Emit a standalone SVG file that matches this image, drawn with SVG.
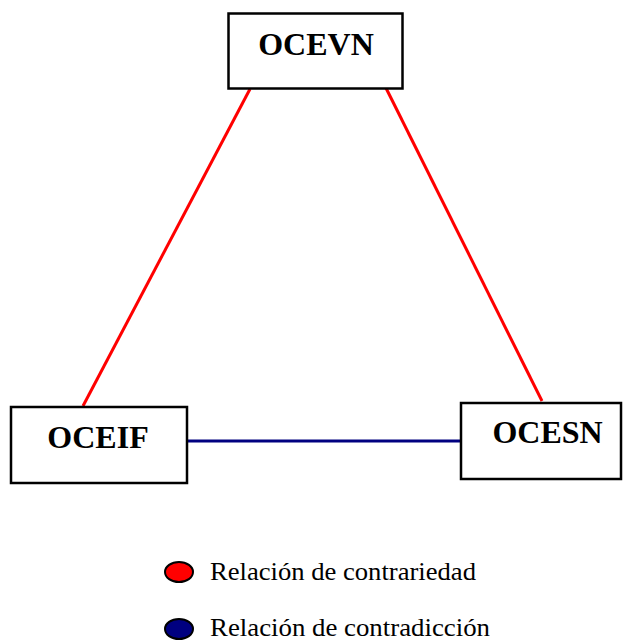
<svg xmlns="http://www.w3.org/2000/svg" width="624" height="641" viewBox="0 0 624 641">
<style>
.box{fill:#fff;stroke:#000;stroke-width:2.5}
.lbl{font-family:"Liberation Serif","Times New Roman",serif;font-weight:bold;font-size:32px;text-anchor:middle;fill:#000}
.leg{font-family:"Liberation Serif","Times New Roman",serif;font-size:25px;fill:#000}
.red{stroke:#ff0000;stroke-width:3;fill:none}
.blue{stroke:#000080;stroke-width:3;fill:none}
</style>
<rect width="624" height="641" fill="#fff"/>
<g id="connectors">
<line class="red" x1="250" y1="89" x2="83" y2="406"/>
<line class="red" x1="386" y1="88" x2="542" y2="401"/>
<line class="blue" x1="187" y1="441" x2="461" y2="441"/>
</g>
<g id="OCEVN">
<rect class="box" x="228.5" y="13.5" width="174" height="75"/>
<text class="lbl" x="316" y="55">OCEVN</text>
</g>
<g id="OCEIF">
<rect class="box" x="11" y="407" width="176" height="76"/>
<text class="lbl" x="98" y="448">OCEIF</text>
</g>
<g id="OCESN">
<rect class="box" x="461" y="403" width="160" height="76"/>
<text class="lbl" x="547.5" y="443">OCESN</text>
</g>
<g id="legend">
<ellipse cx="179" cy="572" rx="14" ry="10" fill="#ff0000" stroke="#000" stroke-width="2"/>
<text class="leg" x="210" y="580" textLength="266" lengthAdjust="spacingAndGlyphs">Relación de contrariedad</text>
<ellipse cx="179" cy="629" rx="14" ry="10" fill="#000080" stroke="#000" stroke-width="2"/>
<text class="leg" x="210" y="636" textLength="280" lengthAdjust="spacingAndGlyphs">Relación de contradicción</text>
</g>
</svg>
